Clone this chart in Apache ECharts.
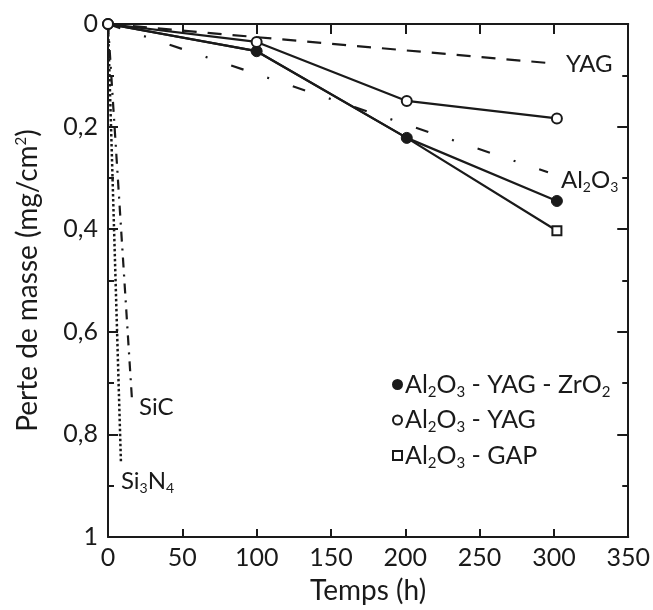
<!DOCTYPE html>
<html>
<head>
<meta charset="utf-8">
<script src="https://cdn.jsdelivr.net/npm/echarts@6/dist/echarts.min.js"></script>
<style>
html,body{margin:0;padding:0;background:#fff;}
#c{width:653px;height:610px;}
</style>
</head>
<body>
<div id="c"></div>
<script>
// ---- data ----
const times = [0, 100, 201, 302];
const lossZrO2 = [0, 0.053, 0.222, 0.345];   // Al2O3 - YAG - ZrO2 (filled circles)
const lossYAGcomp = [0, 0.035, 0.150, 0.184]; // Al2O3 - YAG (open circles)
const lossGAP = [0, 0.053, 0.222, 0.403];     // Al2O3 - GAP (squares)
const yagX = [0, 300], yagY = [0, 0.077];          // YAG reference (dashed)
const aluminaX = [0, 296], aluminaY = [0, 0.289];  // Al2O3 reference (dash-dot)
const sicX = [0, 16.2], sicY = [0, 0.735];         // SiC (dash-dot)
const si3n4X = [0, 8.7], si3n4Y = [0, 0.854];      // Si3N4 (dotted)
const xTickValues = [0, 50, 100, 150, 200, 250, 300, 350];
const yTickValues = [0, 0.2, 0.4, 0.6, 0.8, 1];

const FONT = 'Lato';
const black = '#1a1a1a';
const pair = (xs, ys) => xs.map((x, i) => [x, ys[i]]);
const mkRich = (big, small, lh) => ({
  n: { fontSize: big, fontFamily: FONT, color: black, lineHeight: lh },
  s: { fontSize: small, fontFamily: FONT, color: black, lineHeight: small, verticalAlign: 'bottom' }
});
const annRich = mkRich(24, 14, 28);
const legRich = mkRich(25, 15, 30);
function chem(str) {
  let out = '', buf = '';
  for (let i = 0; i < str.length; i++) {
    const ch = str[i];
    if (/[0-9]/.test(ch) && i > 0 && /[A-Za-z]/.test(str[i - 1])) {
      if (buf) { out += '{n|' + buf + '}'; buf = ''; }
      out += '{s|' + ch + '}';
    } else buf += ch;
  }
  if (buf) out += '{n|' + buf + '}';
  return out;
}
// show marker only on the last point (earlier ones are hidden under other markers)
const lastOnly = (pts) => pts.map((p, i) => i === pts.length - 1 ? { value: p } : { value: p, symbol: 'none' });

const chart = echarts.init(document.getElementById('c'), null, { renderer: 'canvas' });
const axisCommon = {
  min: 0,
  axisLine: { show: true, onZero: false, lineStyle: { color: black, width: 2 } },
  splitLine: { show: false },
  axisTick: { show: true, inside: true, length: 10, lineStyle: { color: black, width: 2 } }
};

const option = {
  backgroundColor: '#fff',
  animation: false,
  grid: { left: 108, right: 22, top: 24, bottom: 67, containLabel: false },
  xAxis: [
    Object.assign({}, axisCommon, {
      type: 'value', position: 'bottom', max: 350, interval: 50,
      name: 'Temps (h)', nameLocation: 'middle', nameGap: 40,
      nameTextStyle: { fontSize: 28, fontFamily: FONT, color: black },
      axisTick: { show: true, inside: true, length: 8, lineStyle: { color: black, width: 2 } },
      axisLabel: { show: true, fontSize: 25, fontFamily: FONT, color: black, margin: 8,
        formatter: v => xTickValues.includes(v) ? String(v) : '' }
    }),
    Object.assign({}, axisCommon, {
      type: 'value', position: 'top', max: 350, interval: 50,
      axisLabel: { show: false }
    })
  ],
  yAxis: [
    Object.assign({}, axisCommon, {
      type: 'value', position: 'left', inverse: true, max: 1, interval: 0.2,
      name: 'Perte de masse (mg/cm{sup|2})', nameLocation: 'middle', nameGap: 66, nameRotate: 90,
      nameTextStyle: { fontSize: 28, fontFamily: FONT, color: black,
        rich: { sup: { fontSize: 15, fontFamily: FONT, color: black, verticalAlign: 'top', lineHeight: 15 } } },
      minorTick: { show: true, splitNumber: 2, length: 6, lineStyle: { color: black, width: 2 } },
      axisLabel: { show: true, fontSize: 25, fontFamily: FONT, color: black, margin: 10,
        formatter: v => {
          const r = Math.round(v * 10) / 10;
          const m = yTickValues.find(t => Math.abs(t - r) < 1e-6);
          if (m === undefined) return '';
          if (m === 0) return '0';
          if (m === 1) return '1';
          return m.toFixed(1).replace('.', ',');
        } }
    }),
    Object.assign({}, axisCommon, {
      type: 'value', position: 'right', inverse: true, max: 1, interval: 0.2,
      axisTick: { show: true, inside: true, length: 11, lineStyle: { color: black, width: 2 } },
      minorTick: { show: true, splitNumber: 2, length: 6, lineStyle: { color: black, width: 2 } },
      axisLabel: { show: false }
    })
  ],
  legend: {
    orient: 'vertical',
    left: 387, top: 367,
    itemWidth: 9, itemHeight: 9, itemGap: 8,
    textStyle: { rich: legRich, padding: [0, 0, 0, -2] },
    formatter: name => chem(name),
    data: [
      { name: 'Al2O3 - YAG - ZrO2', icon: 'circle' },
      { name: 'Al2O3 - YAG', icon: 'circle' },
      { name: 'Al2O3 - GAP', icon: 'rect' }
    ]
  },
  series: [
    {
      name: 'YAG', type: 'line', data: pair(yagX, yagY), symbol: 'none',
      lineStyle: { color: black, width: 2.2, type: [14, 11] },
      endLabel: { show: true, formatter: 'YAG', distance: 12, offset: [0, 1],
        fontSize: 24, fontFamily: FONT, color: black }
    },
    {
      name: 'Al2O3', type: 'line', data: pair(aluminaX, aluminaY), symbol: 'none',
      lineStyle: { color: black, width: 2.2, type: [13, 25, 2, 25] },
      endLabel: { show: true, formatter: () => chem('Al2O3'), distance: 13, offset: [0, 8], rich: annRich }
    },
    {
      name: 'SiC', type: 'line', data: pair(sicX, sicY), symbol: 'none',
      lineStyle: { color: black, width: 2.2, type: [10, 7, 2, 7] },
      endLabel: { show: true, formatter: 'SiC', distance: 7, offset: [0, 6],
        fontSize: 24, fontFamily: FONT, color: black }
    },
    {
      name: 'Si3N4', type: 'line', data: pair(si3n4X, si3n4Y), symbol: 'none',
      lineStyle: { color: black, width: 2.5, type: [2.5, 2.5] },
      endLabel: { show: true, formatter: () => chem('Si3N4'), distance: 0, offset: [0, 19], rich: annRich }
    },
    {
      name: 'Al2O3 - GAP', type: 'line', data: lastOnly(pair(times, lossGAP)),
      symbol: 'rect', symbolSize: 9,
      lineStyle: { color: black, width: 2.2 },
      itemStyle: { color: '#fff', borderColor: black, borderWidth: 2 }
    },
    {
      name: 'Al2O3 - YAG - ZrO2', type: 'line', data: pair(times, lossZrO2),
      symbol: 'circle', symbolSize: 11,
      lineStyle: { color: black, width: 2.2 },
      itemStyle: { color: black, borderColor: black, borderWidth: 1 }
    },
    {
      name: 'Al2O3 - YAG', type: 'line', data: pair(times, lossYAGcomp),
      symbol: 'circle', symbolSize: 10,
      lineStyle: { color: black, width: 2.2 },
      itemStyle: { color: '#fff', borderColor: black, borderWidth: 2 }
    }
  ]
};
chart.setOption(option);
</script>
</body>
</html>
